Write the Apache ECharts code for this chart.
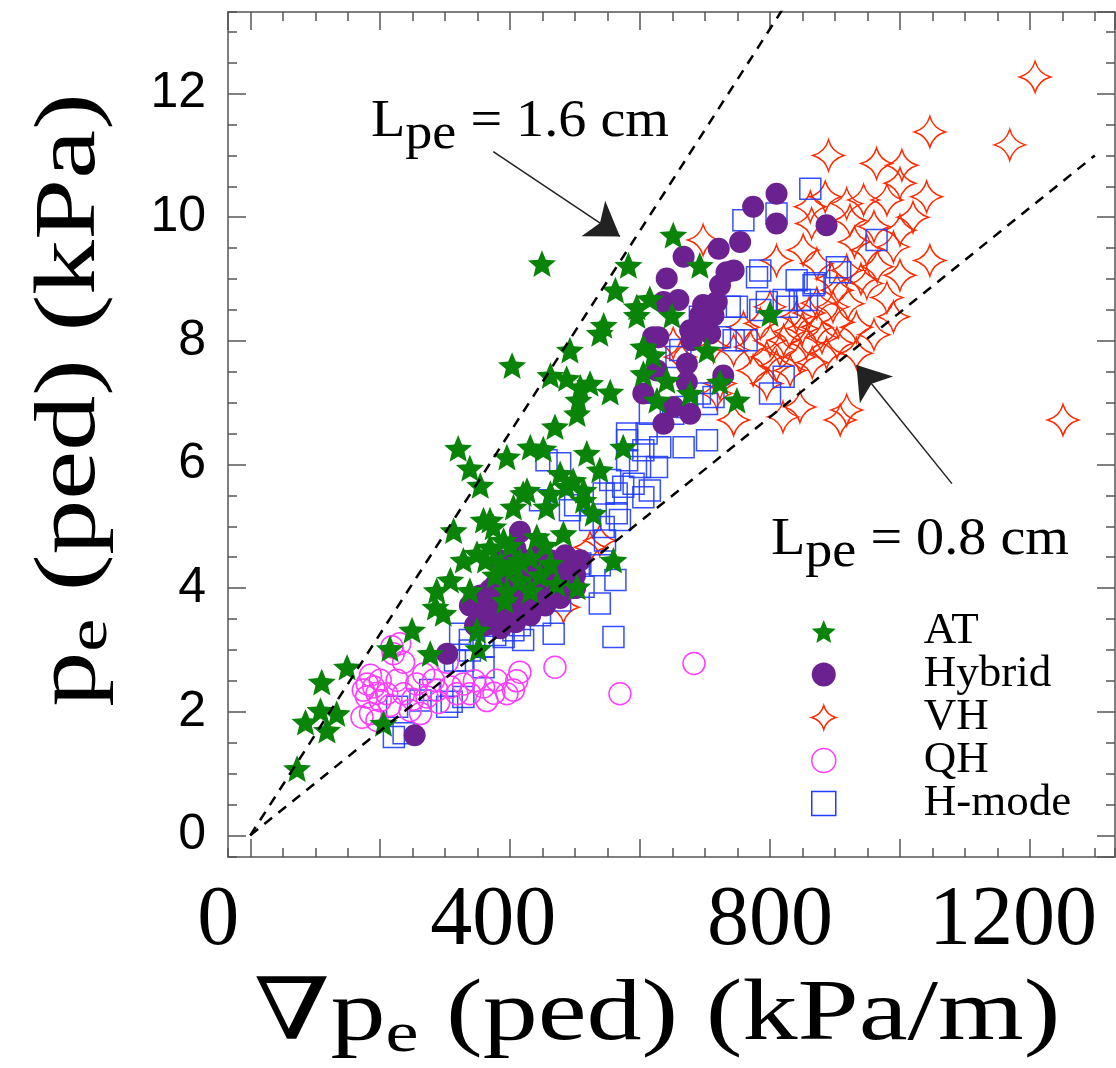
<!DOCTYPE html>
<html>
<head>
<meta charset="utf-8">
<script src="https://cdn.jsdelivr.net/npm/echarts@6/dist/echarts.min.js"></script>
<style>html,body{margin:0;padding:0;background:#fff}#c{width:1116px;height:1068px}</style>
</head>
<body>
<div id="c"></div>
<script>
// ---- data (x: grad pe ped, kPa/m ; y: pe ped, kPa) ----
const AT = [
[72,1.08],[85,1.83],[110,2.48],[118,1.70],[133,1.97],[149,2.72],[108,2.02],[205,1.81],[215,3.02],[249,3.32],
[277,2.94],[287,3.96],[297,3.59],[285,3.69],[308,4.13],[313,4.93],[354,5.66],[349,3.32],[351,3.02],[359,5.10],
[349,4.56],[374,4.99],[369,4.66],[385,4.40],[390,4.77],[405,5.31],[420,5.53],[405,4.34],[415,4.13],[431,4.50],
[441,4.83],[456,5.31],[462,4.40],[482,4.88],[487,5.64],[503,4.02],[513,5.42],[528,5.21],[559,4.45],[472,4.07],
[395,3.96],[328,4.45],[449,9.25],[582,9.22],[651,9.71],[692,9.22],[562,8.82],[595,8.55],[615,8.68],[595,8.41],
[544,8.25],[538,8.12],[649,8.41],[492,7.85],[403,7.60],[462,7.44],[487,7.39],[508,7.25],[523,7.31],[554,7.17],
[605,7.90],[620,7.77],[605,7.47],[641,7.36],[626,7.04],[677,7.15],[703,7.85],[723,7.33],[749,7.04],[800,8.44],
[505,7.04],[503,6.82],[469,6.61],[431,6.28],[395,6.12],[518,6.18],[574,6.28],[451,6.25],[477,5.85],[497,5.74],
[538,5.91],[426,5.58],[462,5.53],[513,5.58],[320,6.26],[338,5.94],[377,4.21],[392,3.80],[415,4.45],[338,3.96],
[362,4.45],[431,3.96],[400,4.69],[446,4.21],[454,4.69],[369,5.10]
];
const HYBRID = [
[774,10.17],[810,9.90],[887,9.87],[721,9.49],[754,9.60],[667,9.36],[641,9.01],[733,9.11],[744,9.14],[723,8.90],
[636,8.63],[659,8.66],[697,8.58],[718,8.63],[713,8.41],[692,8.41],[677,8.17],[703,8.22],[628,8.06],[679,8.01],
[672,7.63],[728,7.44],[672,7.33],[605,7.15],[626,7.52],[651,6.93],[677,6.82],[636,6.66],[708,8.12],[810,10.38],
[620,8.06],[351,3.61],[362,3.80],[369,3.48],[377,3.72],[385,3.56],[392,3.88],[400,3.64],[408,3.80],[415,3.97],
[423,3.72],[431,4.05],[438,3.84],[446,4.13],[454,3.93],[462,4.21],[469,4.00],[477,4.29],[485,4.13],[492,4.37],
[500,4.21],[508,4.45],[362,3.40],[385,3.35],[408,3.45],[431,3.56],[454,3.72],[477,3.84],[500,4.00],[369,3.97],
[392,4.13],[415,4.21],[438,4.29],[462,4.45],[485,4.53],[354,3.88],[377,4.05],[400,4.29],[423,4.45],[446,4.61],
[385,4.45],[408,4.64],[346,3.40],[338,3.72],[415,4.91],[253,1.62],[303,2.94]
];
const VH = [
[1208,12.27],[1046,11.38],[1169,11.17],[890,11.00],[964,10.87],[1003,10.84],[885,10.33],[918,10.22],[944,10.28],[980,10.28],
[1000,10.55],[1041,10.33],[923,9.95],[862,10.17],[864,9.90],[1000,9.79],[990,9.52],[949,9.47],[1046,9.30],[851,9.47],
[810,9.30],[872,9.25],[918,9.14],[1000,9.06],[949,8.93],[903,8.82],[980,8.70],[872,8.61],[897,8.55],[990,8.39],
[933,8.22],[872,8.22],[841,8.39],[821,8.01],[856,7.96],[903,7.96],[933,7.80],[887,7.80],[846,7.74],[795,7.74],
[785,8.28],[744,7.85],[759,8.22],[831,7.52],[774,7.52],[723,7.31],[795,7.31],[846,6.93],[820,6.77],[918,6.88],
[908,6.72],[744,6.72],[1251,6.72],[697,9.63],[713,7.90],[662,7.74],[651,7.96],[718,7.15],[482,3.69],[523,4.66],
[538,4.77],[800,8.00],[815,7.85],[830,8.15],[860,8.45],[880,8.05],[905,8.30],[850,8.20],[800,8.55],[770,7.90],
[810,7.60],[865,7.65],[895,9.00],[930,9.60],[960,9.85],[1020,10.00],[965,9.20],[940,9.00],[920,8.60],[960,8.10]
];
const QH = [
[218,3.05],[236,2.80],[220,2.94],[185,2.59],[174,2.35],[190,2.40],[200,2.18],[172,1.91],[185,1.97],[210,2.29],
[226,2.51],[236,2.29],[256,2.45],[267,2.61],[272,2.24],[262,1.97],[287,2.35],[303,2.80],[308,2.40],[328,2.45],
[338,2.29],[359,2.40],[364,2.18],[379,2.51],[395,2.29],[405,2.35],[415,2.64],[469,2.72],[569,2.29],[318,2.29],
[200,2.51],[179,2.24],[195,1.86],[246,2.02],[282,2.51],[683,2.78],[180,2.45],[195,2.30],[215,2.10],[250,2.20],
[290,2.15],[345,2.50],[375,2.30],[230,3.10],[410,2.50]
];
const HMODE = [
[221,1.59],[236,1.65],[310,2.16],[323,3.26],[338,3.16],[359,3.05],[390,3.21],[405,3.32],[420,3.16],[467,3.26],
[538,3.75],[559,3.21],[492,5.26],[544,4.99],[564,5.21],[508,4.40],[513,4.02],[328,2.83],[359,2.72],[226,2.08],
[477,6.02],[580,6.50],[615,6.82],[605,6.23],[631,6.28],[667,6.28],[703,6.39],[692,7.15],[703,6.98],[580,6.07],
[600,5.96],[626,5.96],[590,5.69],[615,5.58],[574,5.64],[554,5.75],[564,5.53],[544,5.53],[605,5.47],[662,7.85],
[656,7.74],[744,8.01],[764,8.01],[785,8.50],[795,8.63],[821,8.66],[826,8.55],[846,8.66],[857,8.66],[867,8.90],
[841,8.98],[780,9.03],[785,9.14],[903,9.19],[908,9.11],[964,9.63],[759,9.95],[810,10.06],[821,7.42],[800,7.15],
[723,8.06],[738,8.55],[692,8.39],[672,6.93],[651,6.82],[610,6.50],[580,6.39],[862,10.46],[869,8.93],[749,8.55],
[713,7.09],[456,6.07],[446,5.42],[500,5.34],[523,5.10],[546,4.77],[569,5.10],[538,4.37],[562,4.13],[477,3.80],
[446,3.56],[415,3.40],[377,3.24],[338,2.99],[315,2.83],[277,2.35],[262,2.18],[303,2.08],[328,2.24]
];
// reference lines L_pe = 1.6 cm and 0.8 cm (end points)
const LINE_16 = [[0,0],[840,13.70]];
const LINE_08 = [[0,0],[1300,11.00]];
// annotation arrows [from, to]
const ARROW_16 = [[374,11.06],[569,9.69]];
const ARROW_08 = [[1080,5.69],[933,7.61]];
const X_RANGE = [-34.3, 1331];
const Y_RANGE = [-0.35, 13.32];
const X_LABELS = [0, 400, 800, 1200];
const Y_LABELS = [0, 2, 4, 6, 8, 10, 12];
const SERIES_NAMES = ['AT', 'Hybrid', 'VH', 'QH', 'H-mode'];

// ---- styling ----
const SERIF = "'Liberation Serif','DejaVu Serif',serif";
const SANS = "'Liberation Sans','DejaVu Sans',sans-serif";
const FRAME = '#555';
const STAR5 = 'path://M0,-10L2.645,-3.641L9.511,-3.090L4.280,1.391L5.878,8.090L0,4.5L-5.878,8.090L-4.280,1.391L-9.511,-3.090L-2.645,-3.641Z';
const STAR4 = 'path://M0,-10Q2.2,-2.2 10,0Q2.2,2.2 0,10Q-2.2,2.2 -10,0Q-2.2,-2.2 0,-10Z';
const C_AT = '#098409', C_HY = '#6b2190', C_VH = '#ff2a00', C_QH = '#ff3cff', C_HM = '#1f3cff';
const NONE = 'rgba(0,0,0,0)';

function mkX(pos, minor) {
  return {
    type: 'value', position: pos, min: X_RANGE[0], max: X_RANGE[1],
    splitNumber: minor ? 27 : 7, splitLine: {show: false},
    axisLine: {show: !minor, onZero: false, lineStyle: {color: FRAME, width: 1.5}},
    axisTick: {show: true, inside: true, length: minor ? 9 : 18, lineStyle: {color: FRAME, width: 1.5}},
    axisLabel: (pos === 'bottom' && !minor) ? {
      show: true, showMinLabel: false, showMaxLabel: false, margin: 23,
      color: '#000', fontFamily: SERIF, fontSize: 84,
      formatter: v => {
        if (X_LABELS.indexOf(v) < 0) return '';
        if (v === 0) return '{z|0}';
        if (v === 800) return String(v);
        return '{s|' + v + '}';
      },
      rich: {
        z: {fontFamily: SERIF, fontSize: 84, color: '#000', padding: [0, 64, 0, 0]},
        s: {fontFamily: SERIF, fontSize: 84, color: '#000', padding: [0, 34, 0, 0]}
      }
    } : {show: false}
  };
}
function mkY(pos, minor) {
  return {
    type: 'value', position: pos, min: Y_RANGE[0], max: Y_RANGE[1],
    splitNumber: minor ? 27 : 7, splitLine: {show: false},
    axisLine: {show: !minor, onZero: false, lineStyle: {color: FRAME, width: 1.5}},
    axisTick: {show: true, inside: true, length: minor ? 9 : 18, lineStyle: {color: FRAME, width: 1.5}},
    axisLabel: (pos === 'left' && !minor) ? {
      show: true, showMinLabel: false, showMaxLabel: false, margin: 22,
      color: '#000', fontFamily: SANS, fontSize: 50,
      formatter: v => Y_LABELS.indexOf(v) >= 0 ? String(v) : ''
    } : {show: false}
  };
}

function scatter(name, data, symbol, size, itemStyle, z) {
  return {
    type: 'scatter', name, data, symbol, symbolSize: size, symbolKeepAspect: true,
    xAxisIndex: 0, yAxisIndex: 0, itemStyle: Object.assign({opacity: 1}, itemStyle), z,
    emphasis: {disabled: true}, silent: true
  };
}

const chart = echarts.init(document.getElementById('c'), null, {renderer: 'canvas'});
chart.setOption({
  animation: false,
  backgroundColor: '#fff',
  grid: {left: 228, right: 1, top: 12, bottom: 211, containLabel: false, outerBoundsMode: 'none'},
  xAxis: [mkX('bottom', false), mkX('bottom', true), mkX('top', false), mkX('top', true)],
  yAxis: [mkY('left', false), mkY('left', true), mkY('right', false), mkY('right', true)],
  legend: {
    orient: 'vertical', left: 806, top: 604, itemWidth: 24, itemHeight: 24, itemGap: -2,
    selectedMode: false,
    textStyle: {fontFamily: SERIF, fontSize: 45, color: '#000', padding: [0, 0, 0, 83]},
    data: [
      {name: SERIES_NAMES[0], icon: STAR5, itemStyle: {color: C_AT, borderWidth: 0, opacity: 1}},
      {name: SERIES_NAMES[1], icon: 'circle', itemStyle: {color: C_HY, borderWidth: 0, opacity: 1}},
      {name: SERIES_NAMES[2], icon: STAR4, itemStyle: {color: NONE, borderColor: C_VH, borderWidth: 1.5, opacity: 1}},
      {name: SERIES_NAMES[3], icon: 'circle', itemStyle: {color: NONE, borderColor: C_QH, borderWidth: 1.5, opacity: 1}},
      {name: SERIES_NAMES[4], icon: 'rect', itemStyle: {color: NONE, borderColor: C_HM, borderWidth: 1.5, opacity: 1}}
    ]
  },
  series: [
    scatter(SERIES_NAMES[2], VH, STAR4, 31, {color: NONE, borderColor: C_VH, borderWidth: 1.5}, 2),
    scatter(SERIES_NAMES[4], HMODE, 'rect', 21, {color: NONE, borderColor: C_HM, borderWidth: 1.5, opacity: 0.9}, 3),
    scatter(SERIES_NAMES[3], QH, 'circle', 22, {color: NONE, borderColor: C_QH, borderWidth: 1.5}, 4),
    scatter(SERIES_NAMES[1], HYBRID, 'circle', 22, {color: C_HY}, 5),
    scatter(SERIES_NAMES[0], AT, STAR5, 28, {color: C_AT}, 6),
    {type: 'line', data: LINE_16, symbol: 'none', silent: true, z: 8,
     lineStyle: {color: '#000', width: 2.5, type: [10, 8]}},
    {type: 'line', data: LINE_08, symbol: 'none', silent: true, z: 8,
     lineStyle: {color: '#000', width: 2.5, type: [10, 8]}},
    {type: 'lines', coordinateSystem: 'cartesian2d', silent: true, z: 9,
     symbol: ['none', 'arrow'], symbolSize: 32,
     lineStyle: {color: '#222', width: 1.5, opacity: 1},
     data: [{coords: ARROW_16}, {coords: ARROW_08}]}
  ],
  graphic: [
    {type: 'text', left: 371, top: 96, z: 20, silent: true, scaleX: 1.06,
     style: {text: '{a|L}{s|pe}{a| = 1.6 cm}', rich: {
       a: {fontFamily: SERIF, fontSize: 53, fill: '#000', verticalAlign: 'top', lineHeight: 56},
       s: {fontFamily: SERIF, fontSize: 51, fill: '#000', verticalAlign: 'top', lineHeight: 56, padding: [13, 0, 0, 0]}}}},
    {type: 'text', left: 771, top: 514, z: 20, silent: true, scaleX: 1.06,
     style: {text: '{a|L}{s|pe}{a| = 0.8 cm}', rich: {
       a: {fontFamily: SERIF, fontSize: 53, fill: '#000', verticalAlign: 'top', lineHeight: 56},
       s: {fontFamily: SERIF, fontSize: 51, fill: '#000', verticalAlign: 'top', lineHeight: 56, padding: [13, 0, 0, 0]}}}},
    {type: 'text', x: 657, y: 1020, z: 20, silent: true, scaleX: 1.28,
     style: {text: '{a|∇p}{s|e}{a| (ped) (kPa/m)}', align: 'center', verticalAlign: 'middle', rich: {
       a: {fontFamily: SERIF, fontSize: 86, fill: '#000', verticalAlign: 'top', lineHeight: 94},
       s: {fontFamily: SERIF, fontSize: 58, fill: '#000', verticalAlign: 'top', lineHeight: 94, padding: [34, 0, 0, 0]}}}},
    {type: 'text', x: 75, y: 400, rotation: Math.PI / 2, z: 20, silent: true, scaleX: 1.28,
     style: {text: '{a|p}{s|e}{a| (ped) (kPa)}', align: 'center', verticalAlign: 'middle', rich: {
       a: {fontFamily: SERIF, fontSize: 86, fill: '#000', verticalAlign: 'top', lineHeight: 94},
       s: {fontFamily: SERIF, fontSize: 58, fill: '#000', verticalAlign: 'top', lineHeight: 94, padding: [34, 0, 0, 0]}}}}
  ]
});
</script>
</body>
</html>
